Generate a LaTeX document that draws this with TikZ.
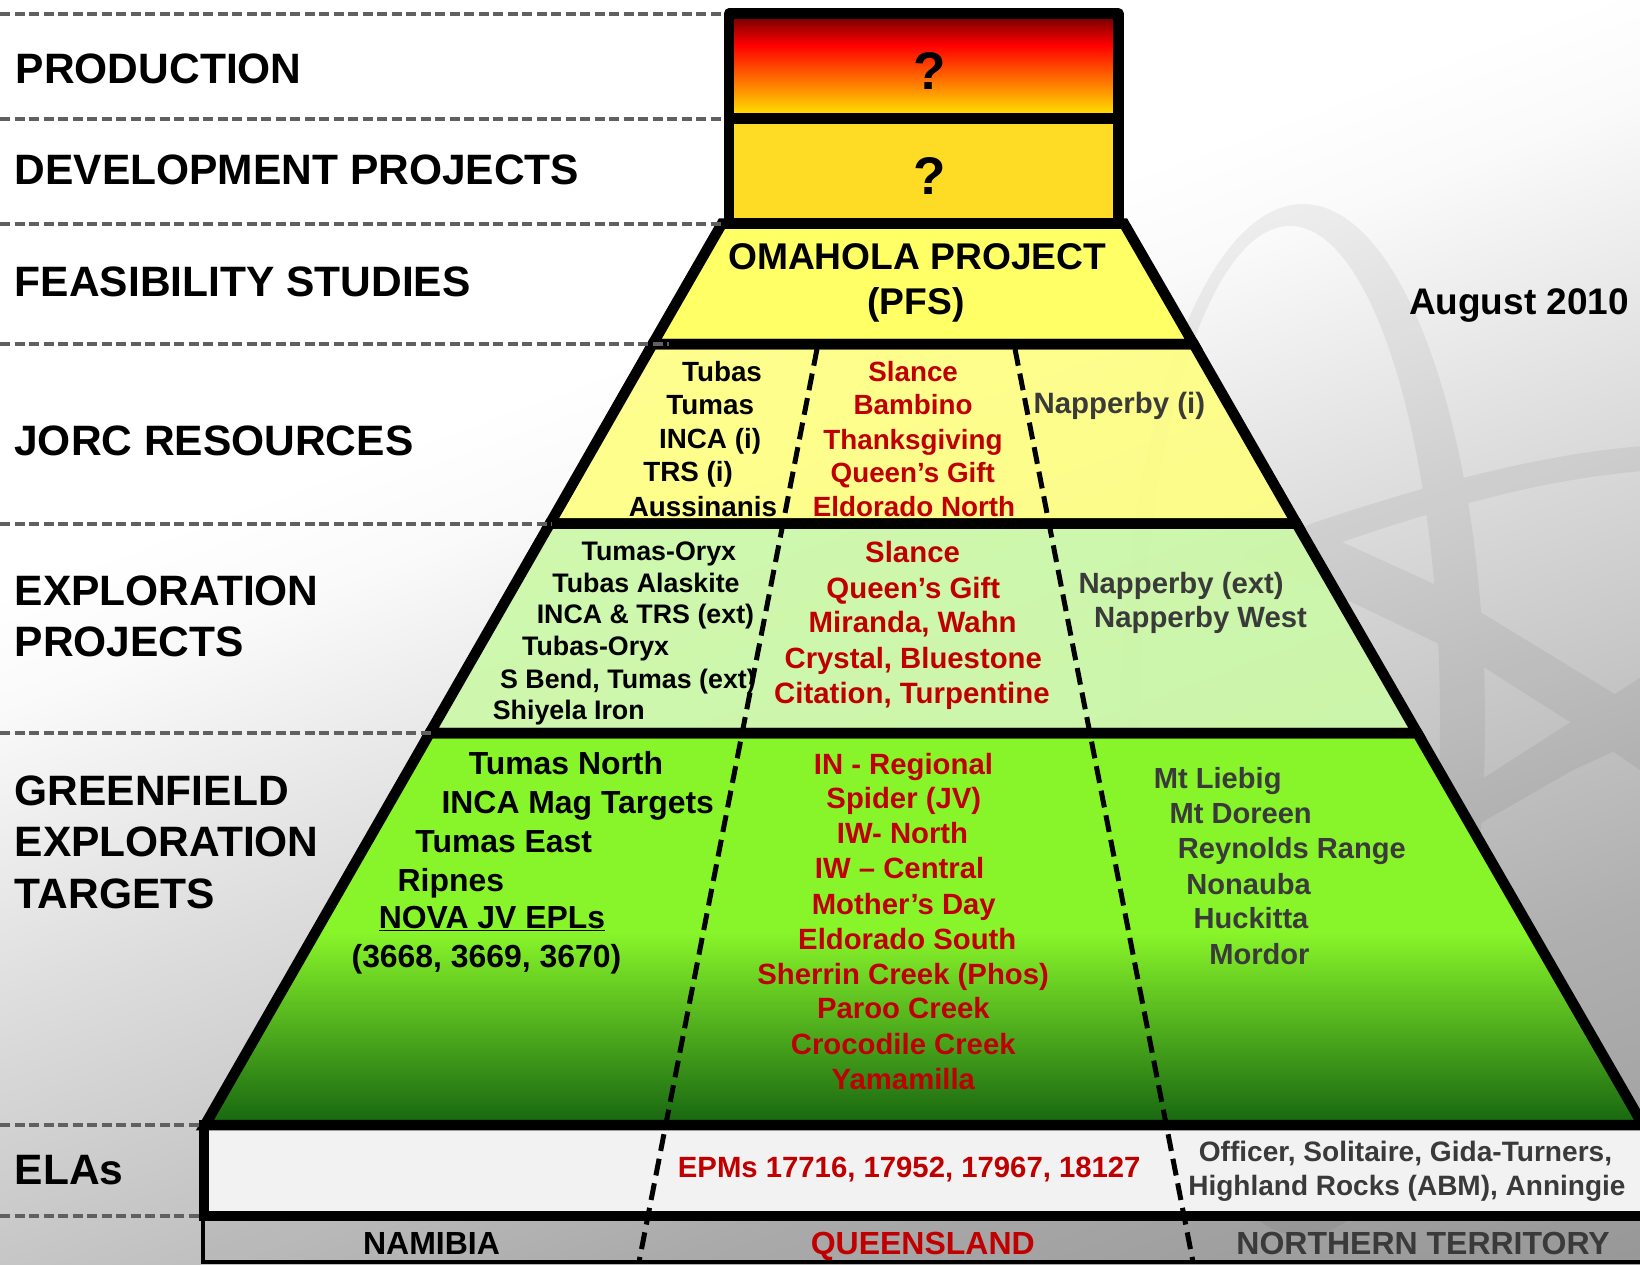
\documentclass[tikz,border=0pt]{standalone}
\usepackage{fontspec}
\setmainfont{Liberation Sans}
\definecolor{prodA}{RGB}{255,220,0}
\definecolor{prodB}{RGB}{255,0,0}
\definecolor{prodC}{RGB}{100,0,0}
\definecolor{devfill}{RGB}{254,220,38}
\definecolor{feasfill}{RGB}{255,255,102}
\definecolor{jorcfill}{RGB}{255,255,130}
\definecolor{explfill}{RGB}{204,249,168}
\definecolor{greenA}{RGB}{23,102,16}
\definecolor{greenB}{RGB}{136,245,42}
\definecolor{elafill}{RGB}{242,242,242}
\definecolor{redtxt}{RGB}{192,0,0}
\definecolor{graytxt}{RGB}{58,58,58}
\definecolor{dashgray}{RGB}{96,96,96}
\pgfdeclareverticalshading{bgshade}{3000bp}{rgb(0bp)=(.604,.604,.604); rgb(380bp)=(.69,.69,.69); rgb(850bp)=(.867,.867,.867); rgb(1130bp)=(.98,.98,.98); rgb(1240bp)=(1,1,1); rgb(1300bp)=(1,1,1)}
\pgfdeclareverticalshading{prodshade}{100bp}{color(0bp)=(prodA); color(27.6bp)=(prodA); color(60bp)=(prodB); color(75bp)=(prodC); color(100bp)=(prodC)}
\pgfdeclareverticalshading{greenshade}{100bp}{color(0bp)=(greenA); color(25bp)=(greenA); color(49.6bp)=(greenB); color(100bp)=(greenB)}
\newcommand{\fsz}[1]{\fontsize{#1}{#1}\selectfont\bfseries}
\tikzset{
  bar/.style={draw=black,line width=10.5pt,miter limit=20},
  divider/.style={draw=dashgray,line width=4pt,dash pattern=on 10pt off 4.5pt},
  column/.style={draw=black,line width=5pt,dash pattern=on 17pt off 8pt},
  txt/.style={anchor=west,inner sep=0pt,text depth=0pt,text height=#1*0.716pt,font=\fsz{#1}},
  head/.style={txt=42.5},
  redt/.style={text=redtxt},
  grayt/.style={text=graytxt}
}
\newcommand{\rowFeas}{(722,223.5)--(1124,223.5)--(1193.6,344)--(652.7,344)--cycle}
\newcommand{\rowJorc}{(652.7,344)--(1193.6,344)--(1296.5,523.5)--(550,523.5)--cycle}
\newcommand{\rowExpl}{(550,523.5)--(1296.5,523.5)--(1417.3,733)--(429.8,733)--cycle}
\newcommand{\rowGreen}{(429.8,733)--(1417.3,733)--(1643,1125)--(205,1125)--cycle}
\begin{document}
\begin{tikzpicture}[x=1pt,y=-1pt]
\useasboundingbox (0,0) rectangle (1640,1264);
% background
\begin{scope}
\clip (0,0) rectangle (1640,1264);
\node[rotate=20.4,inner sep=0pt] (bg) at (820,918) {\pgfuseshading{bgshade}};
\end{scope}
% watermark
\begin{scope}[transparency group,opacity=.055]
\fill[black,even odd rule] (1303,720) ellipse [x radius=182,y radius=516] (1290,720) ellipse [x radius=150,y radius=494];
\fill[black,even odd rule]
  (1660,445) .. controls (1560,450) and (1440,480) .. (1313,523) -- (1240,555) -- (1347,600) -- (1437,643) -- (1485,668) -- (1570,722) -- (1640,770) -- (1660,782) -- cycle
  (1660,470) .. controls (1560,475) and (1450,505) .. (1342,542) -- (1432,583) -- (1482,613) -- (1613,693) -- (1660,722) -- cycle;
\fill[black] (1660,665) -- (1485,777) -- (1440,805) -- (1440,855) -- (1460,835) -- (1573,770) -- (1610,753) -- (1660,728) -- cycle;
\end{scope}
% fills
\path[shading=prodshade] (729,13.5) rectangle (1118.5,118.5);
\fill[devfill] (729,118.5) rectangle (1118.5,223.5);
\fill[feasfill] \rowFeas;
\fill[jorcfill,fill opacity=.9] \rowJorc;
\fill[explfill,fill opacity=.92] \rowExpl;
\path[shading=greenshade] \rowGreen;
\fill[elafill] (204,1125) rectangle (1660,1216);
\fill[black,fill opacity=.03] (203,1216) rectangle (1660,1264);
% country columns
\coordinate (cl1) at (817,349);  \coordinate (cl2) at (639,1262);
\coordinate (cr1) at (1015,349); \coordinate (cr2) at (1193,1262);
\draw[column] (cl1) -- (cl2);
\draw[column] (cr1) -- (cr2);
% outlines
\draw[bar,line join=round] (729,13.5) rectangle (1118.5,118.5);
\draw[bar] (729,118.5) rectangle (1118.5,223.5);
\draw[bar] \rowFeas;
\draw[bar] \rowJorc;
\draw[bar] \rowExpl;
\draw[bar] \rowGreen;
\draw[bar] (1660,1125) -- (204,1125) -- (204,1216) -- (1660,1216);
\draw[black,line width=4pt] (202.5,1216) -- (202.5,1262) -- (1660,1262);
% dashed level lines
\coordinate (ll1) at (0,13.5);  \coordinate (lr1) at (724,13.5);
\coordinate (ll2) at (0,118.5); \coordinate (lr2) at (724,118.5);
\coordinate (ll3) at (0,223.5); \coordinate (lr3) at (724,223.5);
\coordinate (ll4) at (0,344);   \coordinate (lr4) at (669,344);
\coordinate (ll5) at (0,523.5); \coordinate (lr5) at (552,523.5);
\coordinate (ll6) at (0,733);   \coordinate (lr6) at (432,733);
\coordinate (ll7) at (0,1125);  \coordinate (lr7) at (199,1125);
\coordinate (ll8) at (0,1216);  \coordinate (lr8) at (199,1216);
\foreach \i in {1,...,8} \draw[divider] (ll\i) -- (lr\i);
% texts
\begin{scope}[x=1.0459pt,y=-1.0459pt]
\node[head] (h1) at (15,65) {PRODUCTION};
\node[head] (h2) at (14,162) {DEVELOPMENT PROJECTS};
\node[head] (h3) at (14,269) {FEASIBILITY STUDIES};
\node[head] (h4) at (13.5,421) {JORC RESOURCES};
\node[head] (h5) at (14,564.5) {EXPLORATION};
\node[head] (h6) at (14,613) {PROJECTS};
\node[head] (h7) at (14,756) {GREENFIELD};
\node[head] (h8) at (14,804.5) {EXPLORATION};
\node[head] (h9) at (14,854.5) {TARGETS};
\node[head] (h10) at (14,1118) {ELAs};
\node[txt=53,anchor=center] (q1) at (889,67.5) {?};
\node[txt=53,anchor=center] (q2) at (889,168) {?};
\node[txt=37.2] (o1) at (696,245) {OMAHOLA PROJECT};
\node[txt=37.2] (o2) at (829,288) {(PFS)};
\node[txt=37] (aug) at (1347,288.5) {August 2010};
% JORC
\node[txt=27.8] (j1) at (652,355) {Tubas};
\node[txt=27.8] (j2) at (637,387) {Tumas};
\node[txt=27.8] (j3) at (630,419) {INCA (i)};
\node[txt=27.8] (j4) at (615,451) {TRS (i)};
\node[txt=27.8] (j5) at (601,484) {Aussinanis};
\node[txt=27.8,redt] (j6) at (830,355) {Slance};
\node[txt=27.8,redt] (j7) at (816,387) {Bambino};
\node[txt=27.8,redt] (j8) at (787,420) {Thanksgiving};
\node[txt=27.8,redt] (j9) at (794,452) {Queen’s Gift};
\node[txt=27.8,redt] (j10) at (777,484) {Eldorado North};
\node[txt=29.4,grayt] (j11) at (988,385) {Napperby (i)};
% exploration
\node[txt=26.8] (e1) at (556,527) {Tumas-Oryx};
\node[txt=26.8] (e2) at (528,557) {Tubas Alaskite};
\node[txt=26.8] (e3) at (513,587) {INCA \& TRS (ext)};
\node[txt=26.8] (e4) at (499,618) {Tubas-Oryx};
\node[txt=26.8] (e5) at (478,649) {S Bend, Tumas (ext)};
\node[txt=26.8] (e6) at (471,679) {Shiyela Iron};
\node[txt=29.4,redt] (e7) at (827,528) {Slance};
\node[txt=29.4,redt] (e8) at (790,562) {Queen’s Gift};
\node[txt=29.4,redt] (e9) at (773,595) {Miranda, Wahn};
\node[txt=29.3,redt] (e10) at (750,629) {Crystal, Bluestone};
\node[txt=29.4,redt] (e11) at (740,663) {Citation, Turpentine};
\node[txt=29.3,grayt] (e12) at (1031,557) {Napperby (ext)};
\node[txt=29.3,grayt] (e13) at (1046,590) {Napperby West};
% greenfield
\node[txt=31.9] (g1) at (448,730) {Tumas North};
\node[txt=31.9] (g2) at (422,767) {INCA Mag Targets};
\node[txt=31.9] (g3) at (397,804) {Tumas East};
\node[txt=31.9] (g4) at (380,841) {Ripnes};
\node[txt=31.9] (g5) at (362,877) {\underline{NOVA JV EPLs}};
\node[txt=31.9] (g6) at (336,914) {(3668, 3669, 3670)};
\node[txt=29.3,redt] (g7) at (778,730) {IN - Regional};
\node[txt=29.3,redt] (g8) at (790,763) {Spider (JV)};
\node[txt=29.3,redt] (g9) at (800,796) {IW- North};
\node[txt=29.3,redt] (g10) at (779,830) {IW – Central};
\node[txt=29.3,redt] (g11) at (776,864) {Mother’s Day};
\node[txt=29.3,redt] (g12) at (763,898) {Eldorado South};
\node[txt=29.3,redt] (g13) at (724,931) {Sherrin Creek (Phos)};
\node[txt=29.3,redt] (g14) at (781,964) {Paroo Creek};
\node[txt=29.3,redt] (g15) at (756,998) {Crocodile Creek};
\node[txt=29.3,redt] (g16) at (795,1032) {Yamamilla};
\node[txt=29.1,grayt] (g17) at (1103,744) {Mt Liebig};
\node[txt=29.1,grayt] (g18) at (1118,777) {Mt Doreen};
\node[txt=29.1,grayt] (g19) at (1126,811) {Reynolds Range};
\node[txt=29.1,grayt] (g20) at (1134,845) {Nonauba};
\node[txt=29.1,grayt] (g21) at (1141,878) {Huckitta};
\node[txt=29.1,grayt] (g22) at (1156,912) {Mordor};
% ELAs
\node[txt=29.3,redt] (a1) at (648,1116) {EPMs 17716, 17952, 17967, 18127};
\node[txt=28.1,grayt] (a2) at (1146,1101) {Officer, Solitaire, Gida-Turners,};
\node[txt=28,grayt] (a3) at (1136,1133) {Highland Rocks (ABM), Anningie};
% countries
\node[txt=32] (c1) at (347,1188) {NAMIBIA};
\node[txt=32,redt] (c2) at (775,1188) {QUEENSLAND};
\node[txt=32,grayt] (c3) at (1182,1188) {NORTHERN TERRITORY};
\end{scope}
\end{tikzpicture}
\end{document}
